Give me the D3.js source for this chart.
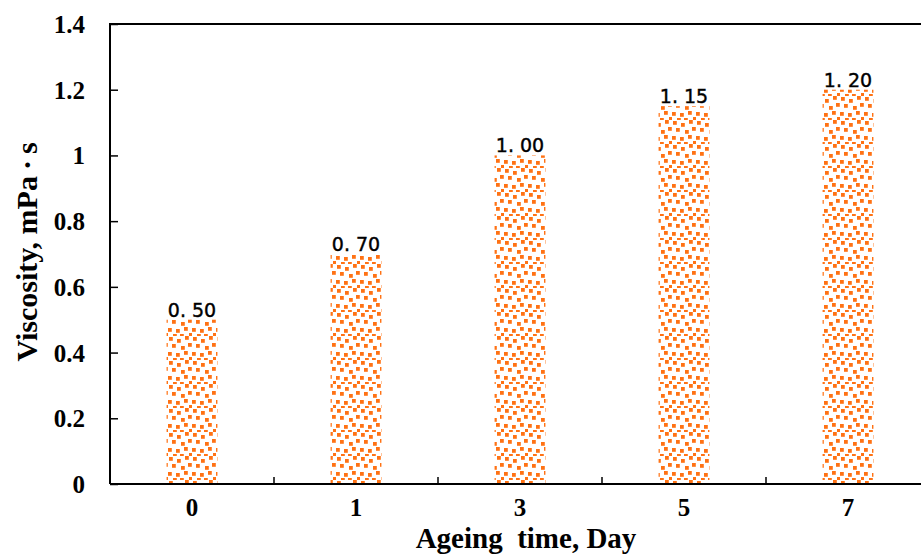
<!DOCTYPE html>
<html>
<head>
<meta charset="utf-8">
<script src="https://cdn.jsdelivr.net/npm/d3@7/dist/d3.min.js"></script>
<style>
  html, body { margin: 0; padding: 0; background: #fff; }
  svg { display: block; }
</style>
</head>
<body>
<svg id="chart" width="921" height="554"></svg>
<script>
// Ageing time (days) and measured viscosity (mPa·s)
const categories = ["0", "1", "3", "5", "7"];
const viscosity = [0.50, 0.70, 1.00, 1.15, 1.20];
const valueLabels = ["0. 50", "0. 70", "1. 00", "1. 15", "1. 20"];
const yTicks = [0, 0.2, 0.4, 0.6, 0.8, 1, 1.2, 1.4];

const serif = "'Liberation Serif', 'Times New Roman', serif";
const svg = d3.select("#chart");
const margin = { left: 110, top: 24 };
const plotW = 820, plotH = 460;

const x = d3.scaleBand().domain(categories).range([margin.left, margin.left + plotW]).paddingInner(0.69).paddingOuter(0.345);
const xEdges = d3.scaleBand().domain(categories).range([margin.left, margin.left + plotW]);
const y = d3.scaleLinear().domain([0, 1.4]).range([margin.top + plotH, margin.top]);

// Confetti-style dot fill for the bars
const defs = svg.append("defs");
const pat = defs.append("pattern").attr("id", "dots")
  .attr("patternUnits", "userSpaceOnUse").attr("width", 24).attr("height", 24);
const dotPos = [[1,1],[9,3],[17,0],[4,8],[13,10],[20,7],[0,16],[8,17],[16,15],[21,21],[5,22],[12,22]];
pat.selectAll("rect").data(dotPos).enter().append("rect")
  .attr("x", d => d[0]).attr("y", d => d[1]).attr("width", 3.8).attr("height", 3.8)
  .attr("fill", "#ff7214");

// Bars
svg.append("g").selectAll("rect").data(categories).enter().append("rect")
  .attr("x", d => x(d))
  .attr("width", x.bandwidth())
  .attr("y", (d, i) => y(viscosity[i]))
  .attr("height", (d, i) => y(0) - y(viscosity[i]))
  .attr("fill", "url(#dots)");

// Value labels above bars
svg.append("g").selectAll("text").data(categories).enter().append("text")
  .attr("x", d => x(d) + x.bandwidth() / 2)
  .attr("y", (d, i) => y(viscosity[i]) - 3)
  .attr("text-anchor", "middle")
  .attr("font-family", "'DejaVu Sans', sans-serif")
  .attr("font-size", 19)
  .attr("fill", "#000").attr("stroke", "#000").attr("stroke-width", 0.4)
  .text((d, i) => valueLabels[i]);

// Frame: left and top lines
svg.append("path")
  .attr("d", `M${margin.left},${margin.top + plotH}V${margin.top}H${margin.left + plotW}`)
  .attr("fill", "none").attr("stroke", "#000").attr("stroke-width", 2);

// Y axis (inward ticks)
const yAxis = svg.append("g").attr("transform", `translate(${margin.left},0)`)
  .call(d3.axisRight(y).tickValues(yTicks).tickSize(8).tickFormat(""));
yAxis.select(".domain").remove();
yAxis.selectAll("line").attr("stroke", "#000").attr("stroke-width", 1.5);
svg.append("g").selectAll("text").data(yTicks).enter().append("text")
  .attr("x", margin.left - 25).attr("y", d => y(d) + 9)
  .attr("text-anchor", "end")
  .attr("font-family", serif)
  .attr("font-weight", "bold").attr("font-size", 25)
  .text(d => d3.format("")(d));

// X axis line with inward tick marks between categories
const baseY = y(0);
svg.append("line").attr("x1", margin.left).attr("x2", margin.left + plotW)
  .attr("y1", baseY).attr("y2", baseY).attr("stroke", "#000").attr("stroke-width", 2);
svg.append("g").selectAll("line").data(categories.slice(1)).enter().append("line")
  .attr("x1", d => xEdges(d)).attr("x2", d => xEdges(d))
  .attr("y1", baseY).attr("y2", baseY - 7)
  .attr("stroke", "#000").attr("stroke-width", 1.5);
svg.append("g").selectAll("text").data(categories).enter().append("text")
  .attr("x", d => x(d) + x.bandwidth() / 2)
  .attr("y", baseY + 32)
  .attr("text-anchor", "middle")
  .attr("font-family", serif)
  .attr("font-weight", "bold").attr("font-size", 25)
  .text(d => d);

// Axis titles
svg.append("text")
  .attr("x", 526).attr("y", 548)
  .attr("text-anchor", "middle")
  .attr("font-family", serif)
  .attr("font-weight", "bold").attr("font-size", 29)
  .attr("xml:space", "preserve")
  .text("Ageing\u00a0 time, Day");

svg.append("text")
  .attr("transform", `translate(37,252) rotate(-90)`)
  .attr("text-anchor", "middle")
  .attr("font-family", serif)
  .attr("font-weight", "bold").attr("font-size", 30)
  .text("Viscosity, mPa\u2009\u00b7\u2009s");
</script>
</body>
</html>
